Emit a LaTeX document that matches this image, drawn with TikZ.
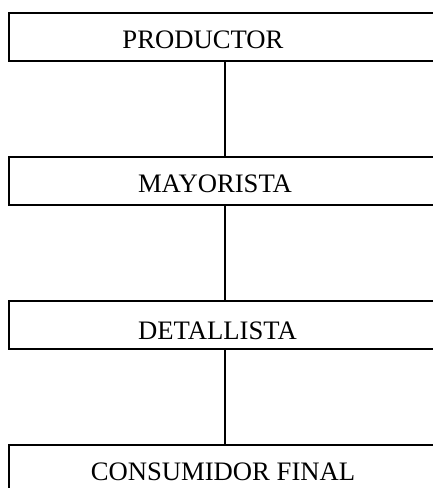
\documentclass[tikz,border=0pt]{standalone}
\usepackage{fontspec}
\setmainfont{Liberation Serif}
\tikzset{
  caja/.style={draw, line width=0.9pt, minimum width=194.4pt, minimum height=21.6pt, inner sep=0pt},
  rotulo/.style={anchor=base, inner sep=0pt, font=\fontsize{12}{14}\selectfont},
  enlace/.style={line width=0.9pt}
}
\begin{document}
\begin{tikzpicture}[x=0.45pt,y=-0.45pt]
\useasboundingbox (0,0) rectangle (433,488);
\clip (0,0) rectangle (433,488);
\node[caja] (productor) at (225,37) {};
\node[caja] (mayorista) at (225,180.5) {};
\node[caja] (detallista) at (225,325) {};
\node[caja] (consumidor) at (225,469) {};
\node[rotulo] (tproductor) at (203,48.3) {PRODUCTOR};
\node[rotulo] (tmayorista) at (215,192.3) {MAYORISTA};
\node[rotulo] (tdetallista) at (217.5,339) {DETALLISTA};
\node[rotulo] (tconsumidor) at (223,480) {CONSUMIDOR FINAL};
\draw[enlace] (productor) -- (mayorista);
\draw[enlace] (mayorista) -- (detallista);
\draw[enlace] (detallista) -- (consumidor);
\end{tikzpicture}
\end{document}
